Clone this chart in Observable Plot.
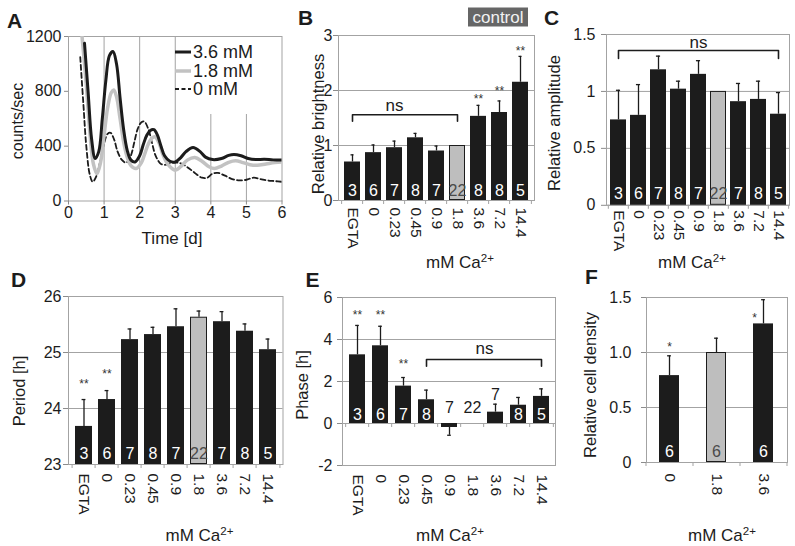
<!DOCTYPE html>
<html><head><meta charset="utf-8">
<script src="https://cdn.jsdelivr.net/npm/d3@7"></script>
<script src="https://cdn.jsdelivr.net/npm/@observablehq/plot@0.6"></script>
<style>
body{margin:0;background:#fff;}
#fig{position:relative;width:795px;height:546px;overflow:hidden;font-family:"Liberation Sans",Arial,sans-serif;color:#1c1c1c;}
#fig svg{position:absolute;overflow:visible;}
#fig g[aria-label="y-axis tick"], #fig g[aria-label="x-axis tick"]{stroke:#8c8c8c;}
.lbl{position:absolute;white-space:nowrap;line-height:1;}
.sup{font-size:0.68em;position:relative;top:-0.5em;}
</style></head>
<body><div id="fig"></div>
<script>
// ---------- DATA ----------
const caCats = ["EGTA","0","0.23","0.45","0.9","1.8","3.6","7.2","14.4"];
const controlCat = "1.8";

// A: bioluminescence traces [day, counts/sec]
const dayTicks = [0,1,2,3,4,5,6];
const dayGrid = [1,2,3,4,5];
const countTicks = [0,400,800,1200];
const trace36 = [[0.45,1150],[0.55,800],[0.65,450],[0.75,310],[0.85,360],[0.95,600],[1.05,880],[1.15,1060],[1.25,1090],[1.35,1000],[1.45,750],[1.55,520],[1.65,370],[1.75,300],[1.87,285],[2.0,330],[2.1,410],[2.2,480],[2.3,515],[2.4,520],[2.5,480],[2.6,400],[2.7,330],[2.85,290],[3.0,285],[3.15,315],[3.3,360],[3.5,390],[3.7,360],[3.85,320],[4.05,302],[4.3,310],[4.5,333],[4.65,340],[4.85,330],[5.05,310],[5.26,302],[5.5,305],[5.75,300],[6.0,300]];
const trace18 = [[0.38,1200],[0.5,850],[0.6,500],[0.7,270],[0.8,200],[0.9,280],[1.0,480],[1.1,680],[1.2,790],[1.27,810],[1.35,760],[1.45,600],[1.55,430],[1.65,320],[1.75,260],[1.9,237],[2.05,280],[2.15,350],[2.25,420],[2.35,460],[2.43,468],[2.55,420],[2.65,340],[2.8,265],[3.0,225],[3.15,250],[3.35,300],[3.55,317],[3.75,290],[3.95,250],[4.1,237],[4.3,255],[4.5,282],[4.7,293],[4.9,280],[5.1,265],[5.3,260],[5.55,270],[5.8,280],[6.0,285]];
const trace0 = [[0.33,1050],[0.42,700],[0.5,400],[0.6,190],[0.68,140],[0.78,180],[0.9,300],[1.0,420],[1.1,490],[1.18,498],[1.28,450],[1.38,360],[1.5,300],[1.62,280],[1.75,330],[1.85,430],[1.95,530],[2.05,575],[2.13,580],[2.25,520],[2.35,420],[2.45,330],[2.6,270],[2.75,265],[2.9,280],[3.05,280],[3.2,270],[3.35,245],[3.55,205],[3.75,170],[3.9,170],[4.05,200],[4.2,205],[4.4,185],[4.6,160],[4.8,150],[5.0,155],[5.2,170],[5.4,160],[5.6,150],[5.8,145],[6.0,140]];

// B: relative brightness
const brightVal = [0.70,0.87,0.96,1.14,0.90,1.00,1.53,1.60,2.15];
const brightErr = [0.83,1.01,1.08,1.22,0.99,null,1.73,1.81,2.62];
const brightN   = [3,6,7,8,7,22,8,8,5];
const brightStarY = [null,null,null,null,null,null,1.90,2.05,2.77];
const brightTicks = [0,1,2,3];

// C: relative amplitude
const ampVal = [0.75,0.79,1.19,1.02,1.15,1.00,0.91,0.93,0.80];
const ampErr = [1.01,1.06,1.31,1.09,1.27,null,1.07,1.09,0.99];
const ampN   = [3,6,7,8,7,22,7,8,5];
const ampTicks = [0,0.5,1,1.5];

// D: period [h]
const periodVal = [23.68,24.16,25.23,25.32,25.46,25.63,25.55,25.38,25.05];
const periodErr = [24.16,24.32,25.42,25.45,25.78,25.74,25.73,25.51,25.24];
const periodN   = [3,6,7,8,7,22,7,8,5];
const periodStarY = [24.49,24.66,null,null,null,null,null,null,null];
const periodTicks = [23,24,25,26];

// E: phase [h]
const phaseVal = [3.27,3.70,1.78,1.13,-0.19,0,0.54,0.87,1.29];
const phaseErr = [4.67,4.63,2.19,1.59,-0.56,null,0.92,1.24,1.65];
const phaseN   = [3,6,7,8,7,22,7,8,5];
const phaseNOutsideY = [null,null,null,null,0.76,0.76,1.37,null,null];
const phaseStarY = [5.29,5.29,2.98,null,null,null,null,null,null];
const phaseTicks = [-2,0,2,4,6];

// F: relative cell density
const densCats = ["0","1.8","3.6"];
const densVal = [0.79,1.00,1.26];
const densErr = [0.97,1.13,1.48];
const densN   = [6,6,6];
const densStarY = [1.08,null,1.34];
const densTicks = [0,0.5,1,1.5];

// ---------- STYLE ----------
const GRID = "#a3a3a3", INK = "#1c1c1c", CTRL = "#bebebe", FONT = '"Liberation Sans", Arial, sans-serif';
const fig = document.getElementById("fig");

function place(box, opts) {
  const [x0,x1,y0,y1] = box;
  const m = {l: 50, r: 14, t: 14, b: 70};
  const svg = Plot.plot({
    width: x1-x0+m.l+m.r, height: y1-y0+m.t+m.b,
    marginLeft: m.l, marginRight: m.r, marginTop: m.t, marginBottom: m.b,
    style: {background: "none", overflow: "visible", fontFamily: FONT, color: INK},
    ...opts
  });
  svg.style.left = (x0-m.l)+"px"; svg.style.top = (y0-m.t)+"px";
  fig.appendChild(svg);
}

function label(html, cx, cy, size, o = {}) {
  const d = document.createElement("div");
  d.className = "lbl"; d.innerHTML = html;
  d.style.left = cx+"px"; d.style.top = cy+"px"; d.style.fontSize = size+"px";
  if (o.bold) d.style.fontWeight = "bold";
  d.style.transform = `translate(-50%,-50%) rotate(${o.rotate||0}deg)`;
  fig.appendChild(d);
  return d;
}

function barPanel(p) {
  const {box, cats, vals, errs, ns, yDomain, yTicks, yFmt, pad, yPad, xPad, nDy} = p;
  const [x0,x1,y0,y1] = box;
  const base = yDomain[0] < 0 ? 0 : yDomain[0];
  const rows = cats.map((c,i) => ({c, v: vals[i], e: errs[i], n: ns[i], ctrl: c === controlCat,
    ly: p.nOutY ? p.nOutY[i] : null, sy: p.starY ? p.starY[i] : null,
    sdx: p.starDx ? p.starDx[i] : 0}));
  const step = (x1-x0)/cats.length, bw = step*(1-pad);
  const tk = (yDomain[1]-yDomain[0])*4/(y1-y0);
  const capIn = (bw-4)/2;
  const withErr = rows.filter(d => d.e != null);
  const marks = [
    Plot.ruleY(yTicks, {stroke: GRID}),
    Plot.frame({stroke: GRID}),
    Plot.ruleX(cats, {x: d => d, dx: -step/2, y1: base, y2: base - tk, stroke: GRID}),
    Plot.ruleX(cats.slice(-1), {x: d => d, dx: step/2, y1: base, y2: base - tk, stroke: GRID}),
    Plot.ruleX(withErr, {x: "c", y1: "v", y2: "e", stroke: INK, strokeWidth: 1.3}),
    Plot.tickY(withErr, {x: "c", y: "e", stroke: INK, strokeWidth: 1.3, insetLeft: capIn, insetRight: capIn}),
    Plot.barY(rows.filter(d => !d.ctrl), {x: "c", y1: base, y2: "v", fill: INK}),
    Plot.barY(rows.filter(d => d.ctrl && d.v !== base), {x: "c", y1: base, y2: "v", fill: CTRL, stroke: INK, strokeWidth: 1, inset: 0.5}),
    Plot.text(rows.filter(d => d.ly == null && !d.ctrl), {x: "c", y: base, dy: nDy, text: "n", fill: "white", fontSize: 16}),
    Plot.text(rows.filter(d => d.ly == null && d.ctrl), {x: "c", y: base, dy: nDy, text: "n", fill: "#4a4a4a", fontSize: 16}),
    Plot.text(rows.filter(d => d.ly != null), {x: "c", y: "ly", text: "n", fill: INK, fontSize: 16}),
    Plot.axisY({ticks: yTicks, tickFormat: yFmt, tickSize: 5, tickPadding: yPad, fontSize: 16, label: null}),
    Plot.axisX({tickSize: 0, tickPadding: xPad, tickRotate: 90, fontSize: 15.5, label: null})
  ];
  for (const r of rows.filter(d => d.sy != null)) {
    marks.push(Plot.text([r], {x: "c", y: "sy", text: () => p.starText || "**", fill: "#333", fontSize: 12, dy: 3, dx: r.sdx}));
  }
  for (const b of (p.brackets || [])) {
    const pts = [{c: b.from, y: b.y - b.drop}, {c: b.from, y: b.y}, {c: b.to, y: b.y}, {c: b.to, y: b.y - b.drop}];
    marks.push(Plot.line(pts, {x: "c", y: "y", stroke: INK, strokeWidth: 1.6}));
    marks.push(Plot.text([b], {x: d => d.textAt, y: d => d.textY, dx: b.textDx || 0, text: () => "ns", fontSize: 17, fill: INK}));
  }
  place(box, {
    x: {type: "band", domain: cats, paddingInner: pad, paddingOuter: pad/2},
    y: {domain: yDomain},
    marks
  });
}

// ---------- PANEL A ----------
const xy = {x: d => d[0], y: d => d[1], curve: "catmull-rom", clip: true};
place([67.5, 281, 35.5, 200], {
  x: {domain: [0,6]}, y: {domain: [0,1200]},
  marks: [
    Plot.ruleX(dayGrid, {stroke: GRID}),
    Plot.frame({stroke: GRID}),
    Plot.line(trace0, {...xy, stroke: INK, strokeWidth: 1.8, strokeDasharray: "5,3"}),
    Plot.line(trace18, {...xy, stroke: "#c2c2c2", strokeWidth: 3.5}),
    Plot.line(trace36, {...xy, stroke: INK, strokeWidth: 3}),
    Plot.axisY({ticks: countTicks, tickFormat: d => String(d), tickSize: 4, tickPadding: 3, fontSize: 16, label: null}),
    Plot.axisX({ticks: dayTicks, tickFormat: d => String(d), tickSize: 4, tickPadding: 2, fontSize: 16, label: null})
  ]
});
// legend A
const leg = document.createElement("div");
Object.assign(leg.style, {position: "absolute", left: "176px", top: "37px", width: "104px", height: "77px", background: "white"});
fig.appendChild(leg);
const legItems = [["3.6 mM", INK, 3, ""], ["1.8 mM", "#c2c2c2", 3.5, ""], ["0 mM", INK, 1.8, "4,2.5"]];
legItems.forEach(([t, c, w, dash], i) => {
  const cy = 52 + i*18.5;
  const s = document.createElementNS("http://www.w3.org/2000/svg", "svg");
  s.setAttribute("width", 16); s.setAttribute("height", 6);
  Object.assign(s.style, {position: "absolute", left: "175px", top: (cy-3)+"px"});
  s.innerHTML = `<line x1="0" x2="16" y1="3" y2="3" stroke="${c}" stroke-width="${w}" stroke-dasharray="${dash}"/>`;
  fig.appendChild(s);
  const d = label(t, 0, cy, 18);
  d.style.transform = "translate(0,-50%)"; d.style.left = "193px";
});

// ---------- PANELS B-F ----------
barPanel({box: [338, 534, 35, 200], cats: caCats, vals: brightVal, errs: brightErr, ns: brightN,
  yDomain: [0,3], yTicks: brightTicks, yFmt: d => String(d), pad: 0.22, yPad: 1, xPad: 7, nDy: -10,
  starY: brightStarY,
  brackets: [{from: "EGTA", to: "1.8", y: 1.56, drop: 0.12, textAt: "0.23", textY: 1.72}]});

barPanel({box: [606, 789, 33.7, 204.5], cats: caCats, vals: ampVal, errs: ampErr, ns: ampN,
  yDomain: [0,1.5], yTicks: ampTicks, yFmt: d => String(d), pad: 0.22, yPad: 6, xPad: 5, nDy: -11,
  brackets: [{from: "EGTA", to: "14.4", y: 1.36, drop: 0.07, textAt: "0.9", textY: 1.43}]});

barPanel({box: [67.5, 282, 296, 464], cats: caCats, vals: periodVal, errs: periodErr, ns: periodN,
  yDomain: [23,26], yTicks: periodTicks, yFmt: d => String(d), pad: 0.28, yPad: 2, xPad: 9, nDy: -11,
  starY: periodStarY});

barPanel({box: [342, 555, 296.7, 464.7], cats: caCats, vals: phaseVal, errs: phaseErr, ns: phaseN,
  yDomain: [-2,6], yTicks: phaseTicks, yFmt: d => String(d), pad: 0.31, yPad: 5, xPad: 9, nDy: -9,
  nOutY: phaseNOutsideY, starY: phaseStarY,
  brackets: [{from: "0.45", to: "14.4", y: 3.05, drop: 0.32, textAt: "1.8", textDx: 12, textY: 3.55}]});

barPanel({box: [645.5, 786.5, 296.5, 461.5], cats: densCats, vals: densVal, errs: densErr, ns: densN,
  yDomain: [0,1.5], yTicks: densTicks, yFmt: d => d === 0 ? "0" : d.toFixed(1), pad: 0.57, yPad: 10, xPad: 11, nDy: -11,
  starY: densStarY, starDx: [0,0,-9], starText: "*"});

// ---------- TEXT LABELS ----------
label("A", 14.5, 20, 21, {bold: true});
label("B", 305.5, 17, 21, {bold: true});
label("C", 551.5, 17, 21, {bold: true});
label("D", 18.5, 279, 21, {bold: true});
label("E", 312.5, 279, 21, {bold: true});
label("F", 591.5, 276, 21, {bold: true});

label("counts/sec", 18, 121, 16, {rotate: -90});
label("Relative brightness", 318, 124, 16.5, {rotate: -90});
label("Relative amplitude", 554, 123, 16.5, {rotate: -90});
label("Period [h]", 18.5, 391, 16.5, {rotate: -90});
label("Phase [h]", 302, 385, 16.5, {rotate: -90});
label("Relative cell density", 590, 385, 16.5, {rotate: -90});

label("Time [d]", 172, 238, 17);
const caLabel = 'mM Ca<span class="sup">2+</span>';
label(caLabel, 460, 262, 17);
label(caLabel, 692, 262, 17);
label(caLabel, 199.5, 535, 17);
label(caLabel, 450, 535, 17);
label(caLabel, 722, 535, 17);

const ctl = label("control", 498, 16.5, 17);
Object.assign(ctl.style, {background: "#666", color: "#f2f2f2", padding: "1px 4px", width: "52px", textAlign: "center"});
</script>
</body></html>
